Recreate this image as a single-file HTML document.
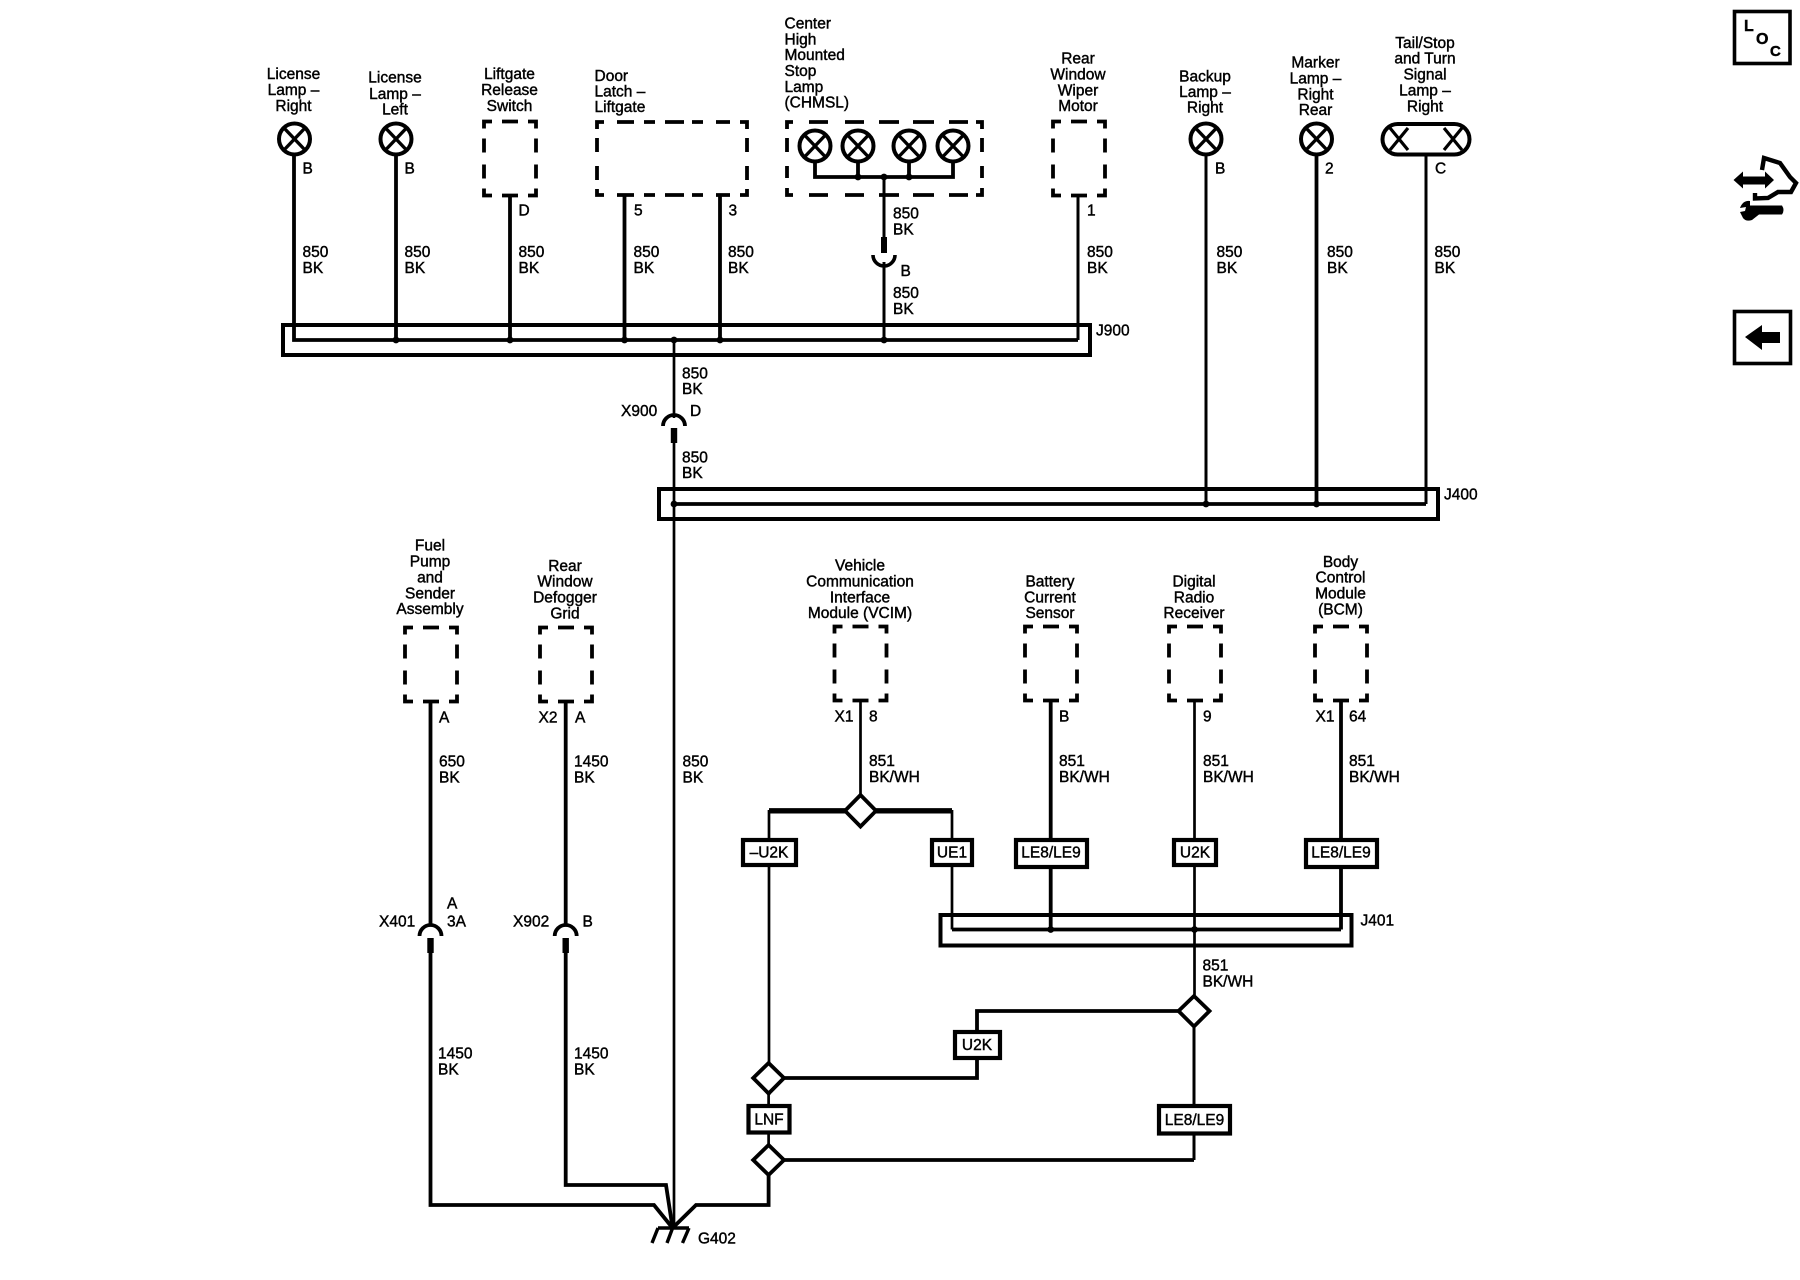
<!DOCTYPE html>
<html><head><meta charset="utf-8"><title>Ground Distribution Schematic</title>
<style>
html,body{margin:0;padding:0;background:#fff}
svg{display:block}
text{font-family:"Liberation Sans",Arial,sans-serif;font-size:15.5px;fill:#000;stroke:#000;stroke-width:.42}
.c{text-anchor:middle}
.w{fill:none;stroke:#000;stroke-width:3;stroke-linejoin:miter}
.n{stroke-width:2.7}
.h{stroke-width:3.8}
.b{fill:none;stroke:#000;stroke-width:4}
.t{fill:#fff;stroke:#000;stroke-width:4.2}
.d{fill:#fff;stroke:#000;stroke-width:3.8}
</style></head><body>
<svg width="1800" height="1280" viewBox="0 0 1800 1280" xmlns="http://www.w3.org/2000/svg">
<defs>
<path id="dbox" d="M1 8V1H9M19 1H35M45 1H53V8M1 18V32M1 44V58M53 18V32M53 44V58M1 68V75H9M19 75H35M45 75H53V68" fill="none" stroke="#000" stroke-width="3.8"/>
<g id="lamp"><circle r="15.5" fill="#fff" stroke="#000" stroke-width="4"/><path d="M-10.5 -11L10.5 11M10.5 -11L-10.5 11" stroke="#000" stroke-width="3.4"/></g>
<g id="conU"><path d="M-11 -8A11 11 0 0 0 11 -8" fill="none" stroke="#000" stroke-width="3.6"/><rect x="-3" y="-26" width="6" height="16"/></g>
<g id="conD"><path d="M-11 10A11 11 0 0 1 11 10" fill="none" stroke="#000" stroke-width="3.8"/><rect x="-3.2" y="12" width="6.4" height="15"/></g>
</defs>

<!-- J900 / J400 / J401 harness boxes -->
<rect class="b" x="283" y="325" width="807" height="30"/>
<rect class="b" x="659" y="489" width="779" height="30"/>
<rect class="b" x="940.5" y="915" width="411" height="30.5"/>

<!-- Top wires -->
<path class="w h" d="M294 155V340H1078"/>
<path class="w h" d="M396 155V340M510 196V340M624.5 196V340M720 196V340"/>
<path class="w" d="M1078 196V340M884 177V240M884 262V340"/>
<path class="w" d="M1206 155V504M1426 155V504"/>
<path class="w h" d="M1316.5 155V504"/>
<path class="w n" d="M674 340V418M674 440V1228"/>
<path class="w h" d="M674 504H1426"/>

<!-- Junction dots -->
<g>
<circle cx="396" cy="340" r="3.4"/><circle cx="510" cy="340" r="3.4"/><circle cx="624.5" cy="340" r="3.4"/><circle cx="674" cy="340" r="3.4"/><circle cx="720" cy="340" r="3.4"/><circle cx="884" cy="340" r="3.4"/>
<circle cx="674" cy="504" r="3.4"/><circle cx="1206" cy="504" r="3.4"/><circle cx="1316.5" cy="504" r="3.4"/>
<circle cx="858" cy="177" r="3.4"/><circle cx="884" cy="177" r="3.4"/><circle cx="909" cy="177" r="3.4"/>
<circle cx="1050.7" cy="929.5" r="3.4"/><circle cx="1194.5" cy="929.5" r="3.4"/>
</g>

<!-- Lamps -->
<use href="#lamp" x="294.5" y="139"/>
<use href="#lamp" x="396" y="139"/>
<use href="#lamp" x="1206" y="139"/>
<use href="#lamp" x="1316.5" y="139"/>
<rect x="1382.5" y="124" width="87" height="30.5" rx="15.2" fill="#fff" stroke="#000" stroke-width="4"/>
<path d="M1390 128L1408 150M1408 128L1390 150M1444 128L1462 150M1462 128L1444 150" stroke="#000" stroke-width="3.2"/>

<!-- Dashed component boxes -->
<use href="#dbox" x="483" y="120.5"/>
<use href="#dbox" x="1052" y="120.5"/>
<path fill="none" stroke="#000" stroke-width="3.8" d="M597 129V122H604M617 122H634M644 122H655M665 122H684M692 122H703M716 122H730M740 122H747V129M597 138V152M597 166V180M747 138V152M747 166V180M597 189V195H604M617 195H634M644 195H655M665 195H684M692 195H703M716 195H730M740 195H747V189"/>
<path fill="none" stroke="#000" stroke-width="3.8" d="M787 129V122H793M809 122H828M845 122H864M879 122H899M913 122H934M949 122H968M976 122H982V129M787 138V152M787 166V178M982 138V152M982 166V178M787 188V195H793M809 195H828M845 195H864M879 195H899M913 195H934M949 195H968M976 195H982V188"/>
<use href="#lamp" x="815" y="146"/><use href="#lamp" x="858" y="146"/><use href="#lamp" x="909" y="146"/><use href="#lamp" x="953" y="146"/>
<path class="w h" d="M815 161V177H953V161M858 161V177M909 161V177"/>

<use href="#dbox" x="404" y="626.5"/>
<use href="#dbox" x="539" y="626.5"/>
<use href="#dbox" x="833.5" y="625.5"/>
<use href="#dbox" x="1024" y="625.5"/>
<use href="#dbox" x="1168" y="625.5"/>
<use href="#dbox" x="1314" y="625.5"/>

<!-- Connectors -->
<use href="#conU" x="884" y="263"/>
<use href="#conD" x="674" y="416"/>
<use href="#conD" x="430.5" y="926"/>
<use href="#conD" x="565.7" y="926"/>

<!-- Lower-left wires to ground -->
<path class="w h" d="M430.5 702V926M565.7 702V926"/>
<path class="w h" d="M430.5 952V1205H654L672.6 1228"/>
<path class="w h" d="M565.7 952V1185H666L672.6 1228"/>
<path class="w h" d="M768.6 1175V1205H696L672.6 1228"/>
<path d="M658 1228H689M658 1228L652 1243M672.6 1228L667 1243M689 1228L682.5 1243" fill="none" stroke="#000" stroke-width="3.4"/>

<!-- Lower-right wires -->
<path class="w n" d="M860.5 701V796"/>
<path fill="none" stroke="#000" stroke-width="5.4" d="M769 810.8H952"/>
<path class="w n" d="M769 810V1095M768.6 1093V1146M952 810V929.5M1194.5 701V995"/>
<path class="w h" d="M952 929.5H1341M1050.7 701V929.5M1341 701V929.5"/>
<path class="w" d="M1194 1026V1160"/>
<path class="w h" d="M1194 1160H770M768.6 1078H977V1011H1179"/>

<!-- Diamonds -->
<path class="d" d="M860.5 795L876 810.8L860.5 826.5L845 810.8Z"/>
<path class="d" d="M1194 996L1209.5 1011L1194 1026.5L1178.5 1011Z"/>
<path class="d" d="M768.6 1063L784 1078L768.6 1093.5L753.2 1078Z"/>
<path class="d" d="M768.6 1145L784 1160L768.6 1175L753.2 1160Z"/>

<!-- Option tags -->
<rect class="t" x="743" y="840" width="53" height="25"/>
<rect class="t" x="932" y="840" width="40" height="25"/>
<rect class="t" x="1016" y="840" width="71" height="27"/>
<rect class="t" x="1174" y="840" width="42" height="25"/>
<rect class="t" x="1306" y="840" width="71" height="27"/>
<rect class="t" x="955" y="1032" width="45" height="26"/>
<rect class="t" x="748.5" y="1106" width="41" height="26.5"/>
<rect class="t" x="1159" y="1106" width="71" height="27.5"/>

<g>
<text class="c" x="769" y="857.5">–U2K</text>
<text class="c" x="952" y="857.5">UE1</text>
<text class="c" x="1051" y="857.5">LE8/LE9</text>
<text class="c" x="1195" y="857.5">U2K</text>
<text class="c" x="1341" y="857.5">LE8/LE9</text>
<text class="c" x="977" y="1050">U2K</text>
<text class="c" x="769" y="1124.5">LNF</text>
<text class="c" x="1194.5" y="1125">LE8/LE9</text>
</g>

<!-- Component labels top -->
<text class="c" x="293.5" y="79">License</text><text class="c" x="293.5" y="95">Lamp –</text><text class="c" x="293.5" y="111">Right</text>
<text class="c" x="395" y="82.5">License</text><text class="c" x="395" y="99">Lamp –</text><text class="c" x="395" y="114.5">Left</text>
<text class="c" x="509.5" y="79">Liftgate</text><text class="c" x="509.5" y="95">Release</text><text class="c" x="509.5" y="111">Switch</text>
<text x="594.5" y="81">Door</text><text x="594.5" y="96.5">Latch –</text><text x="594.5" y="112">Liftgate</text>
<text x="784.5" y="28.5">Center</text><text x="784.5" y="44.5">High</text><text x="784.5" y="60">Mounted</text><text x="784.5" y="76">Stop</text><text x="784.5" y="92">Lamp</text><text x="784.5" y="107.5">(CHMSL)</text>
<text class="c" x="1078" y="63.5">Rear</text><text class="c" x="1078" y="79.5">Window</text><text class="c" x="1078" y="95.5">Wiper</text><text class="c" x="1078" y="111">Motor</text>
<text class="c" x="1205" y="81.5">Backup</text><text class="c" x="1205" y="97">Lamp –</text><text class="c" x="1205" y="112.5">Right</text>
<text class="c" x="1315.5" y="67.5">Marker</text><text class="c" x="1315.5" y="83.5">Lamp –</text><text class="c" x="1315.5" y="99.5">Right</text><text class="c" x="1315.5" y="115">Rear</text>
<text class="c" x="1425" y="48">Tail/Stop</text><text class="c" x="1425" y="63.5">and Turn</text><text class="c" x="1425" y="79.5">Signal</text><text class="c" x="1425" y="95.5">Lamp –</text><text class="c" x="1425" y="111.5">Right</text>

<!-- Pin labels top -->
<text x="302.5" y="173.5">B</text><text x="404.5" y="173.5">B</text><text x="518.5" y="215.5">D</text><text x="634" y="215.5">5</text><text x="728.5" y="215.5">3</text>
<text x="1087" y="215.5">1</text><text x="1215" y="173.5">B</text><text x="1325" y="173.5">2</text><text x="1435" y="173.5">C</text>
<text x="900.5" y="276">B</text>

<!-- Wire labels top -->
<text x="302.5" y="257">850</text><text x="302.5" y="273">BK</text>
<text x="404.5" y="257">850</text><text x="404.5" y="273">BK</text>
<text x="518.5" y="257">850</text><text x="518.5" y="273">BK</text>
<text x="633.5" y="257">850</text><text x="633.5" y="273">BK</text>
<text x="728" y="257">850</text><text x="728" y="273">BK</text>
<text x="893" y="218.5">850</text><text x="893" y="234.5">BK</text>
<text x="893" y="298">850</text><text x="893" y="314">BK</text>
<text x="1087" y="257">850</text><text x="1087" y="273">BK</text>
<text x="1216.5" y="257">850</text><text x="1216.5" y="273">BK</text>
<text x="1327" y="257">850</text><text x="1327" y="273">BK</text>
<text x="1434.5" y="257">850</text><text x="1434.5" y="273">BK</text>
<text x="682" y="378.5">850</text><text x="682" y="394">BK</text>
<text x="621" y="416">X900</text><text x="690" y="416">D</text>
<text x="682" y="462.5">850</text><text x="682" y="478">BK</text>
<text x="1096" y="335.5">J900</text>
<text x="1444" y="499.5">J400</text>
<text x="1360.5" y="925.5">J401</text>

<!-- Lower left labels -->
<text class="c" x="430" y="550.5">Fuel</text><text class="c" x="430" y="566.5">Pump</text><text class="c" x="430" y="582.5">and</text><text class="c" x="430" y="598.5">Sender</text><text class="c" x="430" y="614">Assembly</text>
<text class="c" x="565" y="571">Rear</text><text class="c" x="565" y="586.5">Window</text><text class="c" x="565" y="602.5">Defogger</text><text class="c" x="565" y="618.5">Grid</text>
<text x="439" y="722.5">A</text><text x="538.5" y="722.5">X2</text><text x="575" y="722.5">A</text>
<text x="439" y="766.5">650</text><text x="439" y="782.5">BK</text>
<text x="574" y="766.5">1450</text><text x="574" y="782.5">BK</text>
<text x="682.5" y="766.5">850</text><text x="682.5" y="782.5">BK</text>
<text x="447" y="908.5">A</text><text x="447" y="926.5">3A</text>
<text x="379" y="926.5">X401</text><text x="513" y="926.5">X902</text><text x="582.5" y="926.5">B</text>
<text x="438" y="1058.5">1450</text><text x="438" y="1074.5">BK</text>
<text x="574" y="1058.5">1450</text><text x="574" y="1074.5">BK</text>
<text x="698" y="1243.5">G402</text>

<!-- Lower right labels -->
<text class="c" x="860" y="570.5">Vehicle</text><text class="c" x="860" y="586.5">Communication</text><text class="c" x="860" y="602.5">Interface</text><text class="c" x="860" y="618">Module (VCIM)</text>
<text class="c" x="1050" y="586.5">Battery</text><text class="c" x="1050" y="602.5">Current</text><text class="c" x="1050" y="618">Sensor</text>
<text class="c" x="1194" y="586.5">Digital</text><text class="c" x="1194" y="602.5">Radio</text><text class="c" x="1194" y="618">Receiver</text>
<text class="c" x="1340.5" y="567">Body</text><text class="c" x="1340.5" y="582.5">Control</text><text class="c" x="1340.5" y="598.5">Module</text><text class="c" x="1340.5" y="614.5">(BCM)</text>
<text x="834.5" y="721.5">X1</text><text x="869" y="721.5">8</text>
<text x="1059" y="721.5">B</text><text x="1203" y="721.5">9</text>
<text x="1315.5" y="721.5">X1</text><text x="1349" y="721.5">64</text>
<text x="869" y="766">851</text><text x="869" y="782">BK/WH</text>
<text x="1059" y="766">851</text><text x="1059" y="782">BK/WH</text>
<text x="1203" y="766">851</text><text x="1203" y="782">BK/WH</text>
<text x="1349" y="766">851</text><text x="1349" y="782">BK/WH</text>
<text x="1202.5" y="970.5">851</text><text x="1202.5" y="986.5">BK/WH</text>

<!-- Right-side icons -->
<rect x="1734.5" y="11.5" width="55.5" height="52" fill="none" stroke="#000" stroke-width="3.6"/>
<text x="1744" y="31" style="font-size:16px;font-weight:bold">L</text>
<text x="1756" y="44" style="font-size:16px;font-weight:bold">O</text>
<text x="1770" y="56" style="font-size:15px;font-weight:bold">C</text>

<path d="M1733.5 180L1743 171.5V176.5H1765V171.5L1774 180L1765 188.5V184.5H1743V188.5Z"/>
<path d="M1762 170L1764 158L1780 163L1790 177L1796 183L1791 192L1778 192L1768 198L1755 198.5L1755 193" fill="none" stroke="#000" stroke-width="4.4"/>
<path d="M1750 205.5H1782Q1785 210 1782 214.5H1759L1752 220Q1746 222 1743 218L1740 212L1745 211L1746 207L1740 208Q1743 200 1750 201Z"/>

<rect x="1734.5" y="311.5" width="56" height="52" fill="none" stroke="#000" stroke-width="3.6"/>
<path d="M1745 337L1762 325V332H1780V343H1762V350Z"/>
</svg>
</body></html>
